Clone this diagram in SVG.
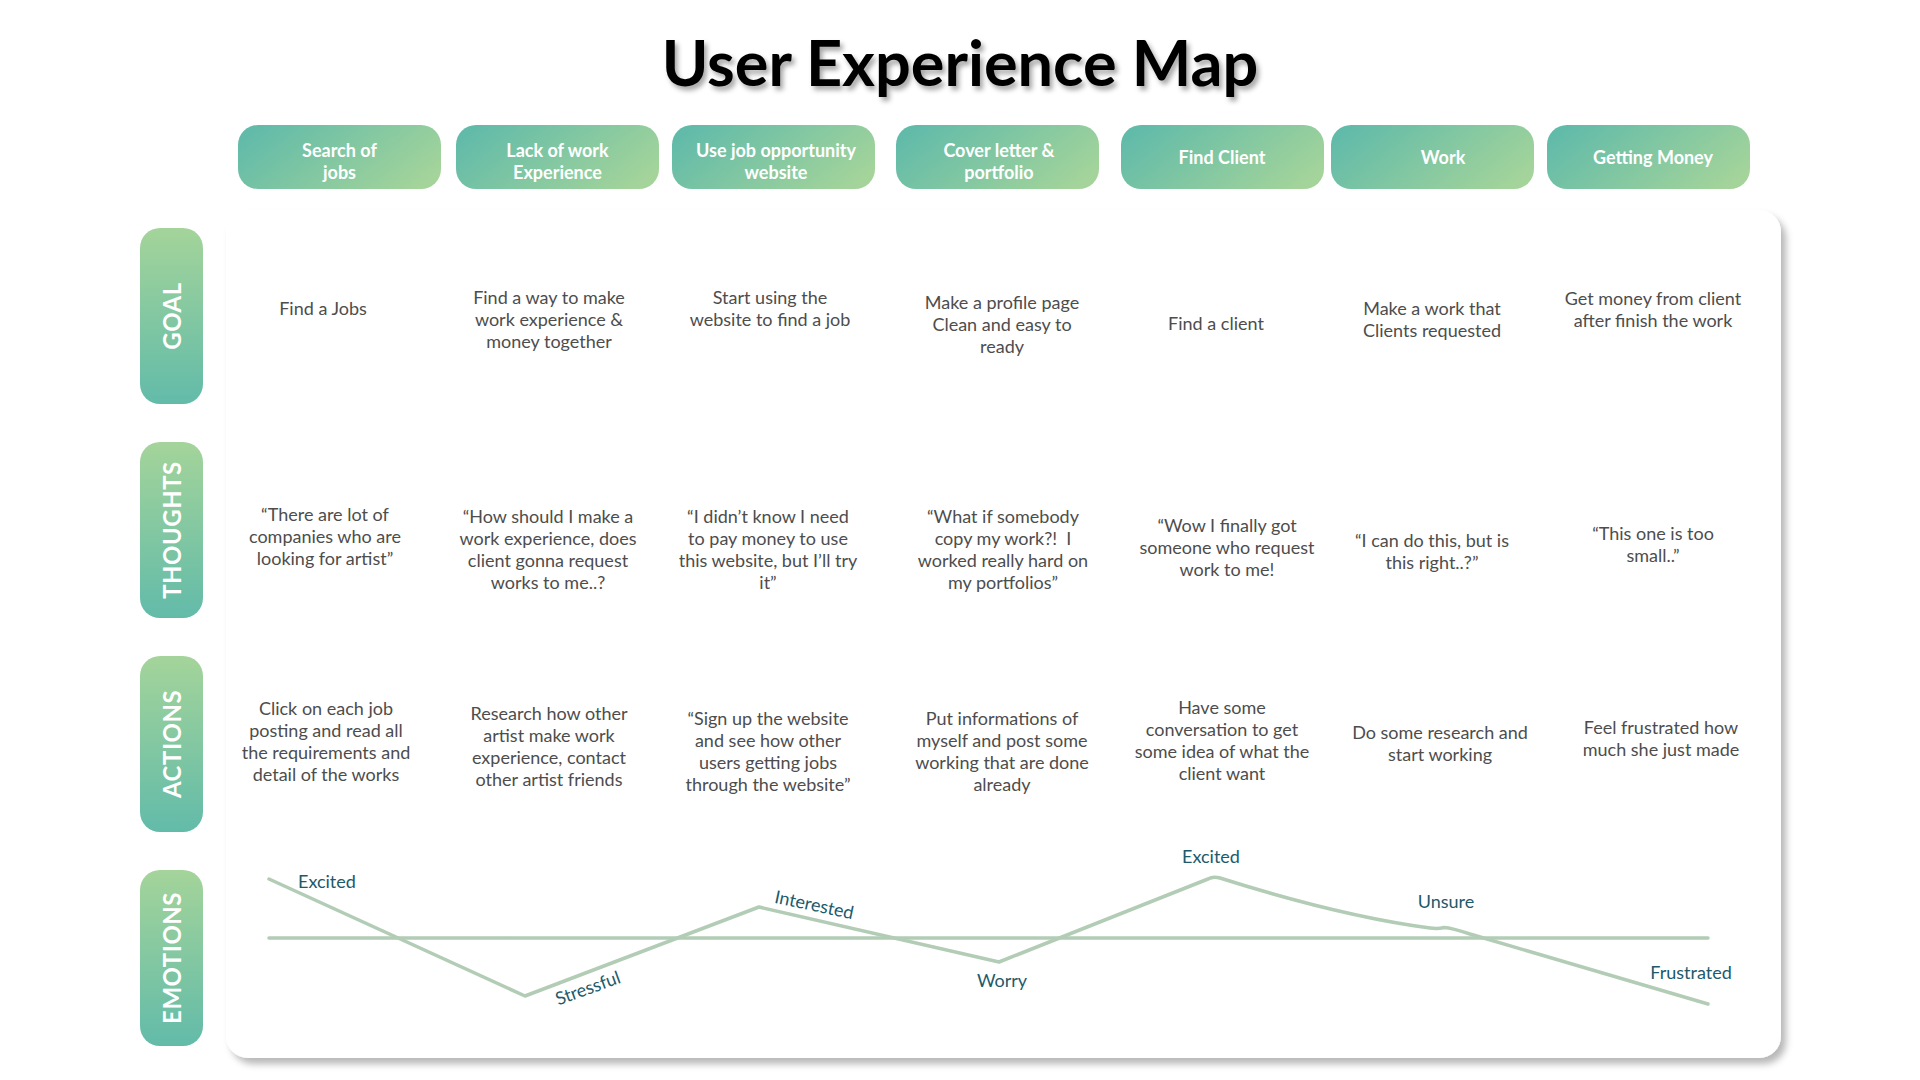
<svg xmlns="http://www.w3.org/2000/svg" width="1920" height="1080" viewBox="0 0 1920 1080">
<defs>
<linearGradient id="gH" x1="0" y1="0.3" x2="1" y2="0.7">
<stop offset="0" stop-color="#62bba9"/>
<stop offset="1" stop-color="#a4d49a"/>
</linearGradient>
<linearGradient id="gV" x1="0" y1="0" x2="0" y2="1">
<stop offset="0" stop-color="#a4d49a"/>
<stop offset="1" stop-color="#62bba9"/>
</linearGradient>
<filter id="panelShadow" x="-5%" y="-5%" width="110%" height="112%">
<feDropShadow dx="5" dy="6" stdDeviation="3.5" flood-color="#000" flood-opacity="0.28"/>
</filter>
<filter id="titleShadow" x="-5%" y="-20%" width="110%" height="150%">
<feDropShadow dx="3" dy="4" stdDeviation="2.5" flood-color="#000" flood-opacity="0.35"/>
</filter>
</defs>
<style>
.hdr{fill:url(#gH)}
.side{fill:url(#gV)}
.ht{font-family:Lato,"Liberation Sans",sans-serif;font-weight:700;font-size:18px;fill:#ffffff;text-anchor:middle}
.st{font-family:Lato,"Liberation Sans",sans-serif;font-weight:700;font-size:24px;fill:#ffffff;text-anchor:middle;letter-spacing:0.5px}
.bt{font-family:Lato,"Liberation Sans",sans-serif;font-weight:400;font-size:18px;fill:#4d4d4d;text-anchor:middle;white-space:pre}
.et{font-family:Lato,"Liberation Sans",sans-serif;font-weight:400;font-size:18px;fill:#1d5a6b}
.line{fill:none;stroke:#b2ccb6;stroke-width:3.5;stroke-linejoin:round;stroke-linecap:round}
</style>
<rect width="1920" height="1080" fill="#ffffff"/>

<g id="title">
<text x="960" y="86" font-family="Lato,'Liberation Sans',sans-serif" font-weight="700" font-size="63" text-anchor="middle" fill="#000" filter="url(#titleShadow)">User Experience Map</text>
</g>

<g id="panel">
<rect x="226" y="210" width="1555" height="848" rx="22" fill="#ffffff" filter="url(#panelShadow)"/>
</g>

<g id="header-search-of-jobs">
<rect class="hdr" x="238" y="125" width="203" height="64" rx="20"/>
<text class="ht"><tspan x="339.5" y="157">Search of</tspan><tspan x="339.5" y="179">jobs</tspan></text>
</g>
<g id="header-lack-of-work">
<rect class="hdr" x="456" y="125" width="203" height="64" rx="20"/>
<text class="ht"><tspan x="557.5" y="157">Lack of work</tspan><tspan x="557.5" y="179">Experience</tspan></text>
</g>
<g id="header-use-job-website">
<rect class="hdr" x="672" y="125" width="203" height="64" rx="20"/>
<text class="ht"><tspan x="776" y="157">Use job opportunity</tspan><tspan x="776" y="179">website</tspan></text>
</g>
<g id="header-cover-letter">
<rect class="hdr" x="896" y="125" width="203" height="64" rx="20"/>
<text class="ht"><tspan x="999" y="157">Cover letter &amp;</tspan><tspan x="999" y="179">portfolio</tspan></text>
</g>
<g id="header-find-client">
<rect class="hdr" x="1121" y="125" width="203" height="64" rx="20"/>
<text class="ht" x="1222" y="164">Find Client</text>
</g>
<g id="header-work">
<rect class="hdr" x="1331" y="125" width="203" height="64" rx="20"/>
<text class="ht" x="1443" y="164">Work</text>
</g>
<g id="header-getting-money">
<rect class="hdr" x="1547" y="125" width="203" height="64" rx="20"/>
<text class="ht" x="1653" y="164">Getting Money</text>
</g>

<g id="row-goal">
<rect class="side" x="140" y="228" width="63" height="176" rx="20"/>
<text class="st" transform="translate(171.5 316) rotate(-90)" x="0" y="9">GOAL</text>
</g>
<g id="row-thoughts">
<rect class="side" x="140" y="442" width="63" height="176" rx="20"/>
<text class="st" transform="translate(171.5 530) rotate(-90)" x="0" y="9">THOUGHTS</text>
</g>
<g id="row-actions">
<rect class="side" x="140" y="656" width="63" height="176" rx="20"/>
<text class="st" transform="translate(171.5 744) rotate(-90)" x="0" y="9">ACTIONS</text>
</g>
<g id="row-emotions">
<rect class="side" x="140" y="870" width="63" height="176" rx="20"/>
<text class="st" transform="translate(171.5 958) rotate(-90)" x="0" y="9">EMOTIONS</text>
</g>

<g id="goal-cells">
<text class="bt" x="323" y="315">Find a Jobs</text>
<text class="bt"><tspan x="549" y="304">Find a way to make</tspan><tspan x="549" y="326">work experience &amp;</tspan><tspan x="549" y="348">money together</tspan></text>
<text class="bt"><tspan x="770" y="304">Start using the</tspan><tspan x="770" y="326">website to find a job</tspan></text>
<text class="bt"><tspan x="1002" y="309">Make a profile page</tspan><tspan x="1002" y="331">Clean and easy to</tspan><tspan x="1002" y="353">ready</tspan></text>
<text class="bt" x="1216" y="330">Find a client</text>
<text class="bt"><tspan x="1432" y="315">Make a work that</tspan><tspan x="1432" y="337">Clients requested</tspan></text>
<text class="bt"><tspan x="1653" y="305">Get money from client</tspan><tspan x="1653" y="327">after finish the work</tspan></text>
</g>

<g id="thought-cells">
<text class="bt"><tspan x="325" y="521">“There are lot of</tspan><tspan x="325" y="543">companies who are</tspan><tspan x="325" y="565">looking for artist”</tspan></text>
<text class="bt"><tspan x="548" y="523">“How should I make a</tspan><tspan x="548" y="545">work experience, does</tspan><tspan x="548" y="567">client gonna request</tspan><tspan x="548" y="589">works to me..?</tspan></text>
<text class="bt"><tspan x="768" y="523">“I didn’t know I need</tspan><tspan x="768" y="545">to pay money to use</tspan><tspan x="768" y="567">this website, but I’ll try</tspan><tspan x="768" y="589">it”</tspan></text>
<text class="bt"><tspan x="1003" y="523">“What if somebody</tspan><tspan x="1003" y="545">copy my work?!  I</tspan><tspan x="1003" y="567">worked really hard on</tspan><tspan x="1003" y="589">my portfolios”</tspan></text>
<text class="bt"><tspan x="1227" y="532">“Wow I finally got</tspan><tspan x="1227" y="554">someone who request</tspan><tspan x="1227" y="576">work to me!</tspan></text>
<text class="bt"><tspan x="1432" y="547">“I can do this, but is</tspan><tspan x="1432" y="569">this right..?”</tspan></text>
<text class="bt"><tspan x="1653" y="540">“This one is too</tspan><tspan x="1653" y="562">small..”</tspan></text>
</g>

<g id="action-cells">
<text class="bt"><tspan x="326" y="715">Click on each job</tspan><tspan x="326" y="737">posting and read all</tspan><tspan x="326" y="759">the requirements and</tspan><tspan x="326" y="781">detail of the works</tspan></text>
<text class="bt"><tspan x="549" y="720">Research how other</tspan><tspan x="549" y="742">artist make work</tspan><tspan x="549" y="764">experience, contact</tspan><tspan x="549" y="786">other artist friends</tspan></text>
<text class="bt"><tspan x="768" y="725">“Sign up the website</tspan><tspan x="768" y="747">and see how other</tspan><tspan x="768" y="769">users getting jobs</tspan><tspan x="768" y="791">through the website”</tspan></text>
<text class="bt"><tspan x="1002" y="725">Put informations of</tspan><tspan x="1002" y="747">myself and post some</tspan><tspan x="1002" y="769">working that are done</tspan><tspan x="1002" y="791">already</tspan></text>
<text class="bt"><tspan x="1222" y="714">Have some</tspan><tspan x="1222" y="736">conversation to get</tspan><tspan x="1222" y="758">some idea of what the</tspan><tspan x="1222" y="780">client want</tspan></text>
<text class="bt"><tspan x="1440" y="739">Do some research and</tspan><tspan x="1440" y="761">start working</tspan></text>
<text class="bt"><tspan x="1661" y="734">Feel frustrated how</tspan><tspan x="1661" y="756">much she just made</tspan></text>
</g>

<g id="connectors">
<line class="line" x1="269" y1="938" x2="1708" y2="938"/>
<path class="line" d="M269,879 L525,996 L759,907 L999,962 L1208,879 Q1213,876 1220,878 Q1340,916 1430,928 Q1438,929 1444,927.5 Q1452,928 1470,934 L1708,1004"/>
</g>

<g id="emotion-labels">
<text class="et" x="298" y="888">Excited</text>
<text class="et" text-anchor="middle" transform="translate(590 994) rotate(-20)">Stressful</text>
<text class="et" text-anchor="middle" transform="translate(813 911) rotate(12)">Interested</text>
<text class="et" text-anchor="middle" x="1002" y="987">Worry</text>
<text class="et" text-anchor="middle" x="1211" y="863">Excited</text>
<text class="et" text-anchor="middle" x="1446" y="908">Unsure</text>
<text class="et" text-anchor="middle" x="1691" y="979">Frustrated</text>
</g>
</svg>
